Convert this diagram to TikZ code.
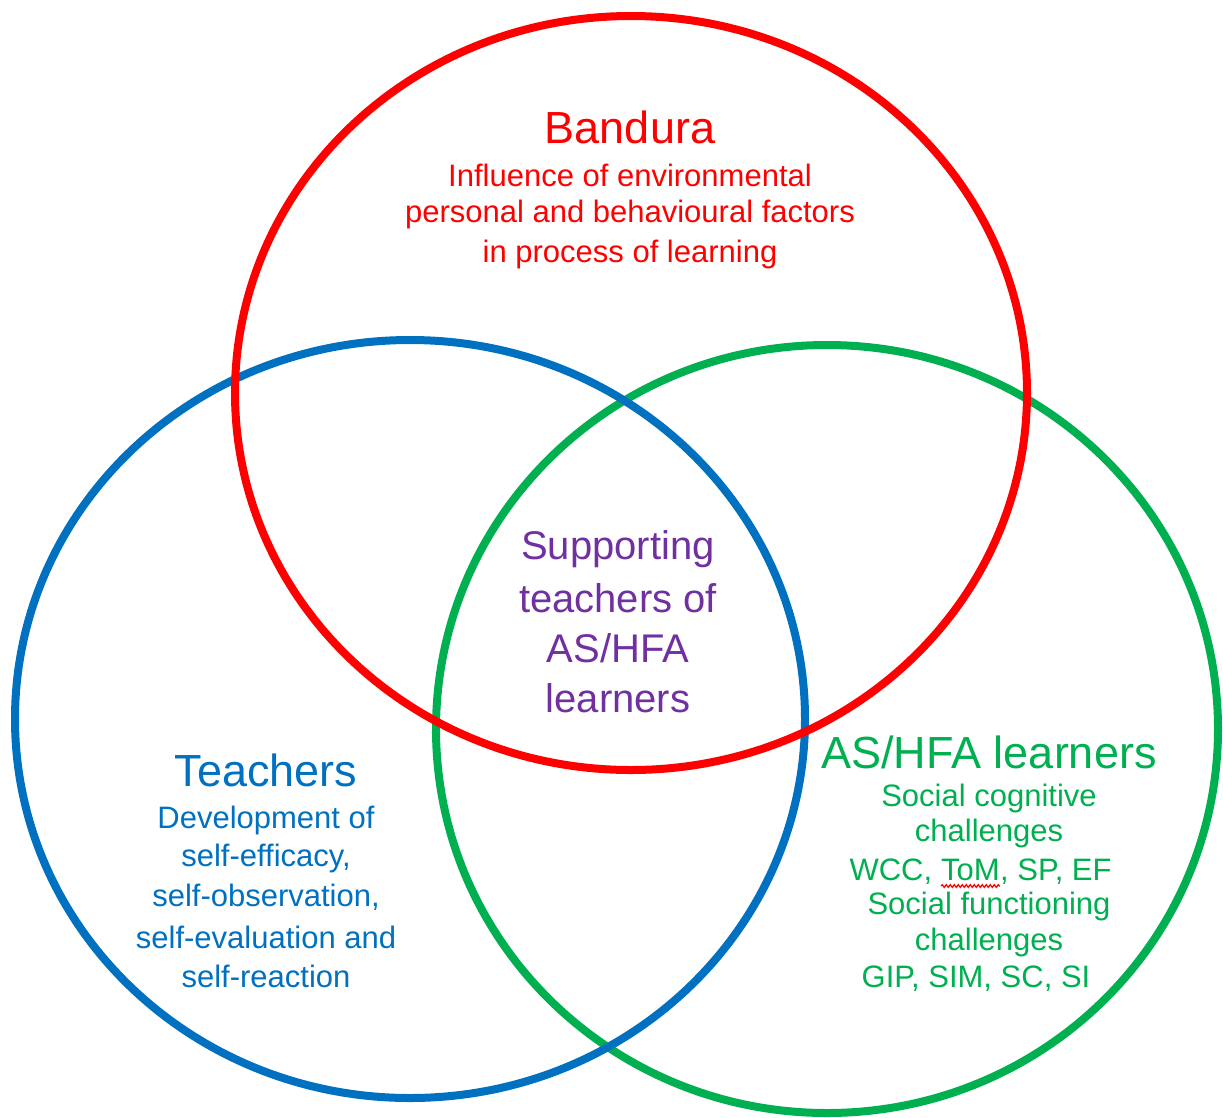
\documentclass[tikz,border=0pt]{standalone}
\usepackage{fontspec}
\setmainfont{Liberation Sans}
\usetikzlibrary{decorations.pathmorphing}
\definecolor{vred}{HTML}{FF0000}
\definecolor{vblue}{HTML}{0070C0}
\definecolor{vgreen}{HTML}{00B050}
\definecolor{vpurple}{HTML}{7030A0}
\begin{document}
\begin{tikzpicture}[x=1pt,y=-1pt,
  ring/.style={line width=8pt},
  title/.style={font=\fontsize{45}{50}\selectfont, inner sep=0pt},
  sub/.style={font=\fontsize{31}{36}\selectfont, inner sep=0pt},
  mid/.style={font=\fontsize{40}{50}\selectfont, inner sep=0pt}]
\useasboundingbox (0,0) rectangle (1223,1117);
% circles
\draw[ring, vgreen] (827,729) ellipse [x radius=391, y radius=384];
\draw[ring, vblue] (410,719) ellipse [x radius=395, y radius=379];
\draw[ring, vred] (631,393) ellipse [x radius=396, y radius=377];
% Bandura
\node[title, text=vred] (bt) at (630,127) {Bandura};
\node[sub, text=vred] (b1) at (630,175) {Influence of environmental};
\node[sub, text=vred] (b2) at (630,214) {personal and behavioural factors};
\node[sub, text=vred] (b3) at (630,254) {in process of learning};
% centre
\node[mid, text=vpurple] (c1) at (618,549) {Supporting};
\node[mid, text=vpurple] (c2) at (618,598) {teachers of};
\node[mid, text=vpurple] (c3) at (618,648) {AS/HFA};
\node[mid, text=vpurple] (c4) at (618,698) {learners};
% Teachers
\node[title, text=vblue] (tt) at (266,770) {Teachers};
\node[sub, text=vblue] (t1) at (266,820) {Development of};
\node[sub, text=vblue] (t2) at (266,858) {self-efficacy,};
\node[sub, text=vblue] (t3) at (266,897) {self-observation,};
\node[sub, text=vblue] (t4) at (266,937) {self-evaluation and};
\node[sub, text=vblue] (t5) at (266,976) {self-reaction};
% AS/HFA learners
\node[title, text=vgreen] (gt) at (989,752) {AS/HFA learners};
\node[sub, text=vgreen] (g1) at (989,798) {Social cognitive};
\node[sub, text=vgreen] (g2) at (989,833) {challenges};
\node[sub, text=vgreen, anchor=base east] (g3a) at (941,880) {WCC,\kern0.278em};
\node[sub, text=vgreen, anchor=base west] (tom) at (g3a.base east) {ToM};
\node[sub, text=vgreen, anchor=base west] (g3c) at (tom.base east) {, SP, EF};
\draw[vred, line width=1.3pt, decorate, decoration={snake, amplitude=1.3pt, segment length=4pt}]
  ([yshift=-6pt]tom.base west) -- ([yshift=-6pt]tom.base east);
\node[sub, text=vgreen] (g4) at (989,906) {Social functioning};
\node[sub, text=vgreen] (g5) at (989,942) {challenges};
\node[sub, text=vgreen] (g6) at (976,979) {GIP, SIM, SC, SI};
\end{tikzpicture}
\end{document}
